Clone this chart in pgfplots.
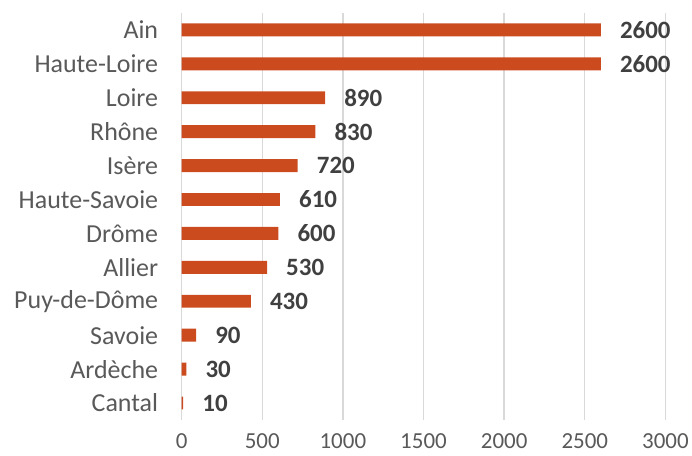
\documentclass[border=0pt]{standalone}
\usepackage{pgfplots}
\pgfplotsset{compat=1.18}
\usepackage{fontspec}
\setmainfont{Carlito}
\definecolor{barc}{RGB}{204,75,30}
\definecolor{labc}{RGB}{89,89,89}
\definecolor{valc}{RGB}{64,64,64}
\definecolor{gridc}{RGB}{217,217,217}
\begin{document}
\begin{tikzpicture}
\begin{axis}[
  scale only axis,
  width=485pt, height=408pt,
  xbar, bar width=13pt,
  xmin=0, xmax=3000,
  ymin=-0.5, ymax=11.5,
  y dir=reverse,
  ytick={0,...,11},
  yticklabels={Ain,Haute-Loire,Loire,Rhône,Isère,Haute-Savoie,Drôme,Allier,Puy-de-Dôme,Savoie,Ardèche,Cantal},
  xtick={0,500,...,3000},
  xmajorgrids, grid style={gridc, line width=1.3pt},
  axis line style={draw=none},
  major tick length=0pt,
  tick label style={text=labc},
  yticklabel style={font=\fontsize{26}{29}\selectfont, xshift=-20pt},
  xticklabel style={font=\fontsize{23}{26}\selectfont, yshift=-10pt},
  /pgf/number format/assume math mode=true,
  scaled x ticks=false,
  xticklabel={\pgfmathprintnumber[fixed,1000 sep={}]{\tick}},
  nodes near coords={\pgfmathprintnumber[fixed,1000 sep={}]{\pgfplotspointmeta}},
  nodes near coords style={font=\fontsize{25}{28}\selectfont\bfseries, text=valc, anchor=west, inner sep=0pt, xshift=19pt},
  clip=false,
]
\addplot[fill=barc, draw=none] coordinates {
(2600,0) (2600,1) (890,2) (830,3) (720,4) (610,5) (600,6) (530,7) (430,8) (90,9) (30,10) (10,11)
};
\path (axis cs:-1126,-0.882) rectangle (axis cs:3155,12.56);
\end{axis}
\end{tikzpicture}
\end{document}
